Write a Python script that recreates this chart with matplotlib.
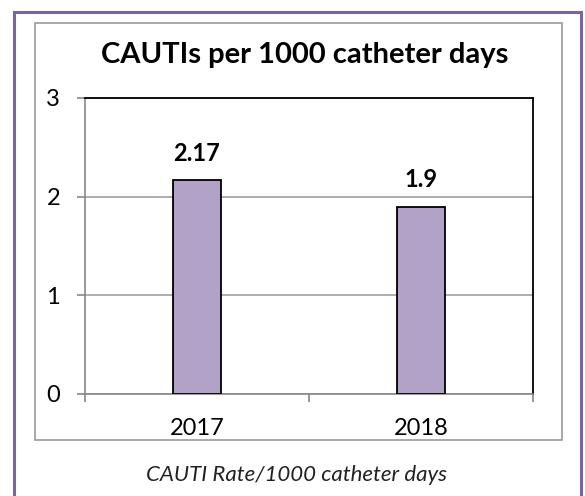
import matplotlib
matplotlib.use("Agg")
import matplotlib.pyplot as plt
from matplotlib.patches import Rectangle

categories = ["2017", "2018"]
values = [2.17, 1.9]
value_labels = ["2.17", "1.9"]
y_ticks = [0, 1, 2, 3]

plt.rcParams['font.family'] = ['Lato', 'DejaVu Sans']

W, H = 585, 496
fig = plt.figure(figsize=(W / 100, H / 100), dpi=100)
fig.patch.set_facecolor("white")

def fx(x):
    return x / W

def fy(y):
    return 1 - y / H

# outer purple border
fig.patches.append(Rectangle((fx(14), fy(500)), fx(581) - fx(14), fy(12) - fy(500),
                             transform=fig.transFigure, fill=False,
                             edgecolor="#7B64A0", linewidth=2.2, zorder=0))
# inner gray chart frame
fig.patches.append(Rectangle((fx(35), fy(440)), fx(562) - fx(35), fy(23) - fy(440),
                             transform=fig.transFigure, fill=False,
                             edgecolor="#9A9A9A", linewidth=1.2, zorder=0))

ax = fig.add_axes([fx(85), fy(394), fx(533) - fx(85), fy(98) - fy(394)])
x = list(range(len(categories)))
bars = ax.bar(x, values, width=0.214, color="#B3A2C7", edgecolor="black",
              linewidth=1.3, zorder=3)

ax.set_xlim(-0.5, len(categories) - 0.5)
ax.set_ylim(0, 3)
ax.set_yticks(y_ticks)
ax.set_yticklabels([str(t) for t in y_ticks], fontsize=17)
ax.yaxis.grid(True, color="#A0A0A0", linewidth=1.2, zorder=0)
ax.set_axisbelow(True)

ax.set_xticks([i - 0.5 for i in range(len(categories) + 1)])
ax.set_xticklabels([])
ax.set_xticks(x, minor=True)
ax.set_xticklabels(categories, minor=True, fontsize=17)
ax.tick_params(axis="x", which="minor", length=0, pad=17)
ax.tick_params(axis="x", which="major", length=6, color="#888888", width=1.2)
ax.tick_params(axis="y", length=6, color="#888888", width=1.2, pad=12)

for s in ["left", "bottom"]:
    ax.spines[s].set_color("#888888")
    ax.spines[s].set_linewidth(1.2)
for s in ["top", "right"]:
    ax.spines[s].set_color("black")
    ax.spines[s].set_linewidth(1.3)

for xi, v, lab in zip(x, values, value_labels):
    ax.annotate(lab, (xi, v), xytext=(0, 11), textcoords="offset points",
                ha="center", va="bottom", fontsize=17, fontweight="bold")

fig.text(fx(305), fy(55), "CAUTIs per 1000 catheter days", ha="center", va="center",
         fontsize=21, fontweight="bold")
fig.text(fx(296), fy(475), "CAUTI Rate/1000 catheter days", ha="center", va="center",
         fontsize=16, fontstyle="italic", color="#222222")

fig.savefig("out.png", dpi=100, facecolor="white")
